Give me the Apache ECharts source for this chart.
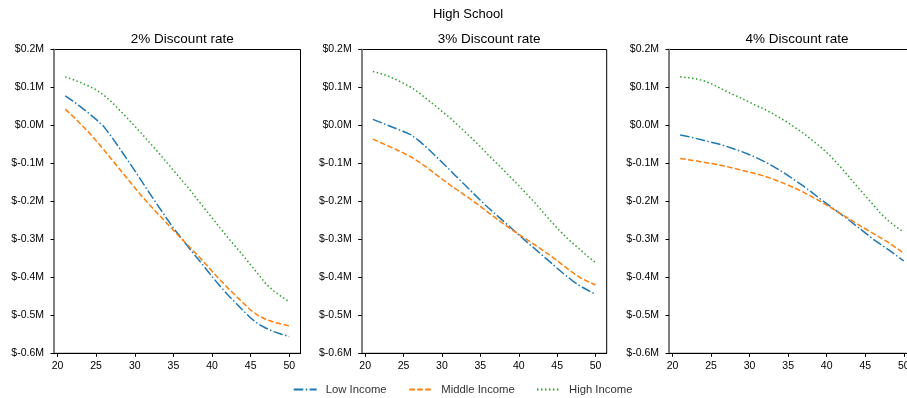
<!DOCTYPE html>
<html>
<head>
<meta charset="utf-8">
<script src="https://cdn.jsdelivr.net/npm/echarts@6/dist/echarts.min.js"></script>
<style>
  html, body { margin: 0; padding: 0; background: #fff; }
  #chart { width: 907px; height: 398px; }
</style>
</head>
<body>
<div id="chart"></div>
<script>
// Ages on the horizontal axis
const ages = [21,22,23,24,25,26,27,28,29,30,31,32,33,34,35,36,37,38,39,40,41,42,43,44,45,46,47,48,49,50];

// Net present value in $M, one panel per discount rate
const low2 = [0.078,0.064,0.049,0.033,0.016,-0.003,-0.030,-0.059,-0.089,-0.119,-0.150,-0.181,-0.211,-0.241,-0.270,-0.296,-0.322,-0.347,-0.372,-0.398,-0.422,-0.445,-0.466,-0.487,-0.507,-0.523,-0.534,-0.543,-0.550,-0.556];
const mid2 = [0.043,0.024,0.004,-0.017,-0.040,-0.064,-0.089,-0.114,-0.139,-0.164,-0.188,-0.211,-0.233,-0.254,-0.276,-0.297,-0.318,-0.339,-0.361,-0.384,-0.406,-0.427,-0.447,-0.467,-0.486,-0.501,-0.511,-0.518,-0.523,-0.528];
const high2 = [0.128,0.121,0.113,0.104,0.094,0.080,0.062,0.041,0.020,-0.002,-0.024,-0.047,-0.070,-0.094,-0.118,-0.142,-0.166,-0.192,-0.218,-0.243,-0.269,-0.294,-0.318,-0.342,-0.367,-0.392,-0.418,-0.436,-0.451,-0.464];

const low3 = [0.016,0.008,0.000,-0.008,-0.016,-0.025,-0.040,-0.058,-0.077,-0.097,-0.117,-0.137,-0.157,-0.177,-0.197,-0.216,-0.234,-0.252,-0.270,-0.288,-0.306,-0.323,-0.341,-0.358,-0.376,-0.393,-0.409,-0.423,-0.434,-0.445];
const mid3 = [-0.036,-0.045,-0.054,-0.063,-0.073,-0.083,-0.096,-0.110,-0.126,-0.141,-0.156,-0.170,-0.184,-0.198,-0.213,-0.229,-0.244,-0.259,-0.273,-0.287,-0.300,-0.313,-0.327,-0.341,-0.356,-0.372,-0.387,-0.401,-0.411,-0.420];
const high3 = [0.142,0.137,0.130,0.121,0.111,0.100,0.086,0.070,0.054,0.037,0.021,0.002,-0.017,-0.036,-0.056,-0.077,-0.097,-0.117,-0.138,-0.158,-0.180,-0.201,-0.225,-0.248,-0.270,-0.291,-0.310,-0.327,-0.345,-0.361];

const low4 = [-0.025,-0.029,-0.034,-0.039,-0.044,-0.049,-0.055,-0.062,-0.069,-0.077,-0.086,-0.096,-0.107,-0.119,-0.132,-0.146,-0.160,-0.175,-0.191,-0.206,-0.221,-0.236,-0.251,-0.267,-0.283,-0.299,-0.313,-0.327,-0.342,-0.357];
const mid4 = [-0.087,-0.090,-0.093,-0.097,-0.100,-0.104,-0.108,-0.113,-0.118,-0.123,-0.128,-0.134,-0.141,-0.149,-0.157,-0.166,-0.176,-0.187,-0.198,-0.210,-0.222,-0.235,-0.247,-0.260,-0.272,-0.284,-0.296,-0.308,-0.322,-0.337];
const high4 = [0.128,0.126,0.123,0.118,0.110,0.100,0.090,0.080,0.071,0.061,0.051,0.042,0.031,0.019,0.007,-0.007,-0.021,-0.037,-0.053,-0.071,-0.092,-0.114,-0.138,-0.162,-0.185,-0.208,-0.232,-0.251,-0.267,-0.281];

const panelTitles = ['2% Discount rate', '3% Discount rate', '4% Discount rate'];
const seriesNames = ['Low Income', 'Middle Income', 'High Income'];
const xTicks = [20, 25, 30, 35, 40, 45, 50];
const yTicks = [-0.6, -0.5, -0.4, -0.3, -0.2, -0.1, 0.0, 0.1, 0.2];

const panels = [[low2, mid2, high2], [low3, mid3, high3], [low4, mid4, high4]];

const FONT = '"Liberation Sans", Arial, Helvetica, sans-serif';
const colors = ['#1f77b4', '#ff7f0e', '#2ca02c'];
const dashes = [[9.6, 2.4, 1.5, 2.4], [5.55, 2.4], [1.5, 2.475]];

// The third panel runs past the right edge of the canvas
const grids = [
  { left: 54, top: 49.5, width: 246.5, height: 303.8 },
  { left: 361.7, top: 49.5, width: 245, height: 303.8 },
  { left: 669, top: 49.5, width: 246, height: 303.8 }
];

// One legend block per entry so each sits at its own spot on the bottom row
const legendLefts = [292.7, 408.3, 536];

const option = {
  animation: false,
  backgroundColor: '#fff',
  textStyle: { fontFamily: FONT },
  title: [
    { text: 'High School', left: 463, top: 3, textAlign: 'center',
      textStyle: { fontSize: 13, fontWeight: 'normal', color: '#000', fontFamily: FONT } }
  ].concat(panelTitles.map((t, i) => ({
    text: t, left: grids[i].left + grids[i].width / 2, top: 27, textAlign: 'center',
    textStyle: { fontSize: 13.5, fontWeight: 'normal', color: '#000', fontFamily: FONT }
  }))),
  legend: seriesNames.map((n, i) => ({
    left: legendLefts[i], top: 384,
    itemWidth: 23, itemHeight: 12, padding: 0,
    data: [n],
    itemStyle: { opacity: 0 },
    textStyle: { fontSize: 11.3, color: '#333', fontFamily: FONT, padding: [0, 0, 0, 4] }
  })),
  grid: grids.map(g => Object.assign({
    show: true, borderColor: '#000', borderWidth: 1, backgroundColor: 'transparent',
    containLabel: false, outerBoundsMode: 'none'
  }, g)),
  xAxis: grids.map((g, i) => ({
    type: 'value', gridIndex: i, min: 19.55, max: 51.45,
    axisLine: { show: true, onZero: false, lineStyle: { color: '#000', width: 1 } },
    axisTick: { show: true, length: 3.5, lineStyle: { color: '#000' }, customValues: xTicks },
    axisLabel: { color: '#000', fontSize: 10.5, margin: 7, fontFamily: FONT, customValues: xTicks },
    splitLine: { show: false }
  })),
  yAxis: grids.map((g, i) => ({
    type: 'value', gridIndex: i, min: -0.6, max: 0.2,
    axisLine: { show: true, onZero: false, lineStyle: { color: '#808080', width: 2 } },
    axisTick: { show: true, length: 3.5, lineStyle: { color: '#000' }, customValues: yTicks },
    axisLabel: {
      color: '#000', fontSize: 10.5, margin: 10, fontFamily: FONT, customValues: yTicks,
      formatter: v => '$' + (Math.abs(v) < 1e-9 ? '0.0' : v.toFixed(1)) + 'M'
    },
    splitLine: { show: false }
  })),
  series: []
};

panels.forEach((vals, p) => {
  vals.forEach((arr, s) => {
    option.series.push({
      name: seriesNames[s],
      type: 'line',
      xAxisIndex: p, yAxisIndex: p,
      data: ages.map((a, k) => [a, arr[k]]),
      showSymbol: false, symbol: 'none',
      color: colors[s],
      lineStyle: { color: colors[s], width: 1.5, type: dashes[s] },
      emphasis: { disabled: true }
    });
  });
});

const chart = echarts.init(document.getElementById('chart'), null, { renderer: 'canvas' });
chart.setOption(option);
</script>
</body>
</html>
